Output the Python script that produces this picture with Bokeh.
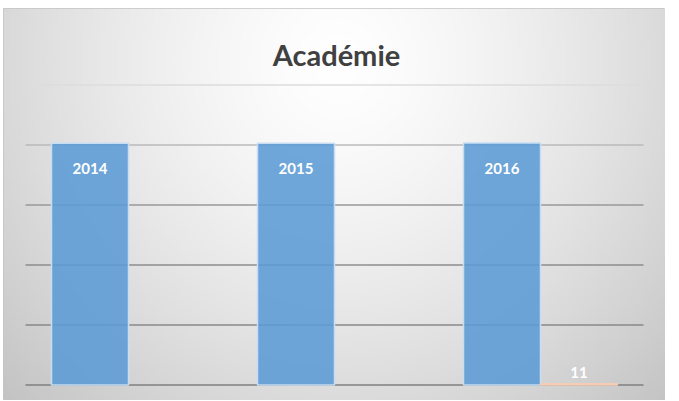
import numpy as np
from bokeh.plotting import figure
from bokeh.models import Range1d, ColumnDataSource
from bokeh.core.properties import value
from bokeh.embed import file_html
from bokeh.resources import INLINE

# ---- data ----
title_text = "Académie"
categories = ["Catégorie 1", "Catégorie 2", "Catégorie 3"]
series1 = [2014, 2015, 2016]
series2 = [0, 0, 11]
y_ticks = [0, 500, 1000, 1500, 2000, 2500]

# ---- layout helpers (page pixel -> data) ----
CAT_PX = 206.0          # pixels per category
CAT0_CENTER = 128.0     # page x of first category centre
ZERO_PY = 384.5         # page y of value 0
UNITS_PER_PX = 500 / 60.0


def xd(px):
    return (px - CAT0_CENTER) / CAT_PX


def yd(py):
    return (ZERO_PY - py) * UNITS_PER_PX


LEFT, TOP, RIGHT, BOTTOM = 3, 8, 665, 400
W, H = RIGHT, BOTTOM
x0, x1 = xd(LEFT), xd(RIGHT)
y0, y1 = yd(BOTTOM), yd(TOP)

p = figure(width=W, height=H, x_range=Range1d(x0, x1), y_range=Range1d(y0, y1),
           output_backend="svg", toolbar_location=None,
           min_border_left=LEFT, min_border_top=TOP, min_border_right=0, min_border_bottom=0,
           x_axis_type=None, y_axis_type=None,
           outline_line_color="#c4c4c4", outline_line_width=1,
           background_fill_color="#eeeeee", border_fill_color="white")
p.grid.visible = False

# ---- radial gradient background ----
nx, ny = 220, 130
gx = np.linspace(LEFT, RIGHT, nx)
gy = np.linspace(BOTTOM, TOP, ny)  # row 0 at bottom
GX, GY = np.meshgrid(gx, gy)
r = np.sqrt(((GX - 338) / 400.0) ** 2 + ((GY - 60) / 420.0) ** 2)
v = np.clip(255 - 48 * r ** 1.4, 0, 255).astype(np.uint8)
img = np.empty((ny, nx), dtype=np.uint32)
view = img.view(dtype=np.uint8).reshape((ny, nx, 4))
view[:, :, 0] = v
view[:, :, 1] = v
view[:, :, 2] = v
view[:, :, 3] = 255
p.image_rgba(image=[img], x=x0, y=y0, dw=x1 - x0, dh=y1 - y0)

# ---- gridlines ----
grid_colors = ["#7f7f7f", "#888888", "#8c8c8c", "#999999", "#bababa", "#dddddd"]
n = len(categories)
p.segment(x0=[-0.5] * len(y_ticks), x1=[n - 0.5] * len(y_ticks),
          y0=y_ticks, y1=y_ticks, line_color=grid_colors, line_width=1.3)

# ---- bars ----
bar_w = 77.0 / CAT_PX
xs = np.arange(n)
s1 = ColumnDataSource(dict(x=xs - bar_w / 2, top=series1, label=[str(s) for s in series1]))
p.vbar(x="x", top="top", bottom=0, width=bar_w, source=s1,
       fill_color="#5b9bd5", fill_alpha=0.88, line_color="#c6ddf2", line_width=1.5)

idx2 = [i for i, s in enumerate(series2) if s != 0]
s2 = ColumnDataSource(dict(x=[xs[i] + bar_w / 2 for i in idx2],
                           top=[series2[i] for i in idx2],
                           label=[str(series2[i]) for i in idx2]))
p.vbar(x="x", top="top", bottom=0, width=bar_w, source=s2,
       fill_color="#ed7d31", fill_alpha=0.85, line_color="#f4cdb4", line_width=1.3)

# ---- data labels ----
p.text(x="x", y="top", text="label", source=s1, text_font=value("Lato"),
       text_font_style="bold", text_font_size="15px", text_color="white",
       text_align="center", text_baseline="alphabetic", y_offset=25)
p.text(x="x", y="top", text="label", source=s2, text_font=value("Lato"),
       text_font_style="bold", text_font_size="15px", text_color="white",
       text_align="center", text_baseline="alphabetic", y_offset=-11)

# ---- title ----
p.text(x=[xd(336)], y=[yd(54)], text=[title_text], text_font=value("Lato"),
       text_font_style="bold", text_font_size="29px", text_color="#404040",
       text_align="center", text_baseline="alphabetic")

open("out.html", "w").write(file_html(p, INLINE))
